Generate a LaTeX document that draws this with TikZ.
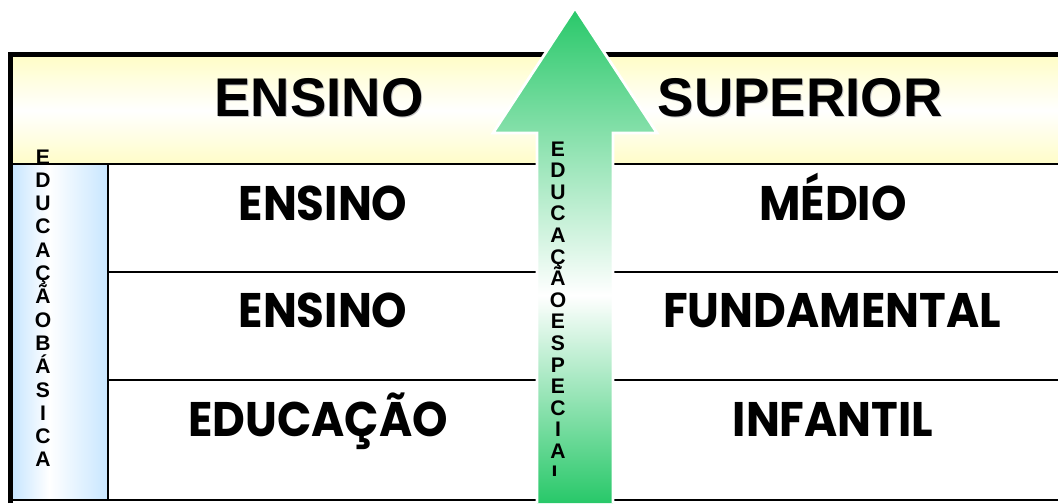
\documentclass[tikz,border=0pt]{standalone}
\usepackage{fontspec}
\setmainfont{Liberation Sans}
\newfontfamily\rowfont[FakeStretch=0.93]{Poppins}
\usetikzlibrary{positioning}
\definecolor{headyellow}{RGB}{255,253,200}
\definecolor{colblue}{RGB}{200,230,255}
\definecolor{arrowgreen}{RGB}{40,200,105}
\pgfdeclarehorizontalshading{colshade}{100bp}{color(0bp)=(colblue); color(25bp)=(colblue); color(44bp)=(white); color(75bp)=(colblue); color(100bp)=(colblue)}
\pgfdeclareverticalshading{arrowshade}{100bp}{color(0bp)=(arrowgreen); color(25bp)=(arrowgreen); color(46bp)=(white); color(75bp)=(arrowgreen); color(100bp)=(arrowgreen)}
\tikzset{
  headtext/.style={font=\fontsize{15.5}{18}\selectfont\bfseries,anchor=base,inner sep=0pt},
  rowtext/.style={font=\rowfont\fontsize{13.8}{17}\selectfont\bfseries,anchor=base,inner sep=0pt},
  lettertext/.style={font=\fontsize{6}{7}\selectfont\bfseries,anchor=base,inner sep=0pt},
}
\begin{document}
\begin{tikzpicture}[x=0.01cm,y=-0.01cm]
\useasboundingbox (0,0) rectangle (1058,503);
% header band and left column
\shade[top color=headyellow,bottom color=headyellow,middle color=white] (13,57) rectangle (1058,164);
\shade[shading=colshade] (13,164) rectangle (108,500);
%\draw[step=50,gray,very thin] (0,0) grid (1058,503);
\draw[line width=0.6pt] (13,164)--(1058,164);
\draw[line width=0.6pt] (108,164)--(108,500);
\draw[line width=0.6pt] (108,272)--(1058,272);
\draw[line width=0.6pt] (108,380)--(1058,380);
\draw[line width=0.6pt] (10,500)--(1058,500);
\draw[line width=1.5pt] (10.5,503)--(10.5,54.5)--(1058,54.5);
% the arrow
\shade[shading=arrowshade,draw=white,line width=0.8pt]
  (537,503)--(537,133)--(493,133)--(575,8)--(657,133)--(613,133)--(613,503);
% header
\node[headtext,text=gray!45] (ensshadow) at (320,117) {ENSINO};
\node[headtext] (ens) at (319,116) {ENSINO};
\node[headtext,text=gray!45] (supshadow) at (801,117) {SUPERIOR};
\node[headtext] (sup) at (800,116) {SUPERIOR};
% rows
\node[rowtext] (ens1) at (323,220) {ENSINO};
\node[rowtext] (medio) at (833,220) {MÉDIO};
\node[rowtext] (ens2) at (323,327) {ENSINO};
\node[rowtext] (fund) at (832,327) {FUNDAMENTAL};
\node[rowtext] (educ) at (318,436) {EDUCAÇÃO};
\node[rowtext] (infantil) at (833,436) {INFANTIL};
% vertical letters
\foreach \ch [count=\i from 0] in {E,D,U,C,A,Ç,Ã,O,B,Á,S,I,C,A}
  \node[lettertext] (basica\i) at (43,164+23.3*\i) {\ch};
\begin{scope}
\clip (530,130) rectangle (620,475);
\foreach \ch [count=\i from 0] in {E,D,U,C,A,Ç,Ã,O,E,S,P,E,C,I,A,L}
  \node[lettertext] (especial\i) at (558,156+21.6*\i) {\ch};
\end{scope}
\end{tikzpicture}
\end{document}
